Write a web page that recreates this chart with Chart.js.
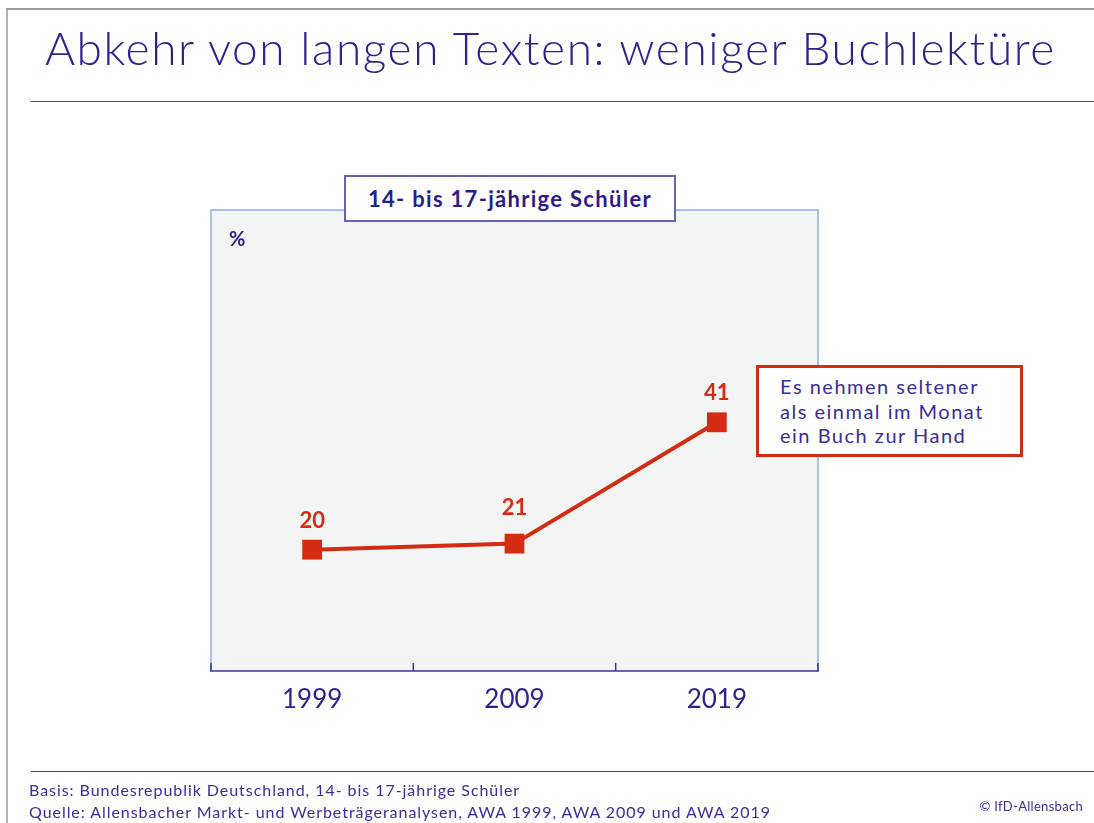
<!DOCTYPE html>
<html lang="de">
<head>
  <meta charset="UTF-8">
  <title>Abkehr von langen Texten: weniger Buchlektüre</title>
  <script src="https://cdn.jsdelivr.net/npm/chart.js"></script>
  <style>
    body { margin: 0; background: #fff; font-family: Lato, "DejaVu Sans", sans-serif; }
    #page { position: relative; width: 1094px; height: 823px; overflow: hidden; }
    #frame { position: absolute; left: 6px; top: 8px; right: -4px; bottom: -4px; border-top: 2px solid #9a9a9a; border-left: 2px solid #b0b0b0; }
    canvas { position: absolute; left: 0; top: 0; }
    .txt { position: absolute; color: #2e2290; white-space: nowrap; }
    #title { left: 45px; top: 22px; font-size: 46px; line-height: 52px; font-weight: 300; letter-spacing: 1.6px; }
    .rule { position: absolute; height: 0; border-top: 1.5px solid #4b40a8; }
    #head { position: absolute; left: 344px; top: 175px; width: 328px; height: 43px; background: #fff;
            border: 2px solid #6b61b3; font-weight: bold; font-size: 22px; line-height: 43px; text-align: center;
            color: #2b1d8a; letter-spacing: 1.3px; }
    #pct { left: 229px; top: 226px; font-weight: bold; font-size: 20px; color: #2b1d8a; }
    #note { position: absolute; left: 756px; top: 365px; width: 240px; height: 80px; padding: 6px 0 0 21px;
            background: #fff; border: 3px solid #d42b13; font-size: 20px; line-height: 24.5px; color: #3a2d9c;
            letter-spacing: 1.5px; }
    .foot { font-size: 16px; color: #3a2d9c; letter-spacing: 0.95px; }
  </style>
</head>
<body>
<div id="page">
  <div id="frame"></div>
  <canvas id="chart" width="1094" height="823"></canvas>
  <div class="txt" id="title">Abkehr von langen Texten: weniger Buchlektüre</div>
  <div class="rule" style="left:31px; right:0; top:101px;"></div>
  <div id="head">14- bis 17-jährige Schüler</div>
  <div class="txt" id="pct">%</div>
  <div id="note">Es nehmen seltener<br>als einmal im Monat<br>ein Buch zur Hand</div>
  <div class="rule" style="left:31px; right:0; top:771px;"></div>
  <div class="txt foot" style="left:29px; top:780px;">Basis: Bundesrepublik Deutschland, 14- bis 17-jährige Schüler</div>
  <div class="txt foot" style="left:29px; top:802px;">Quelle: Allensbacher Markt- und Werbeträgeranalysen, AWA 1999, AWA 2009 und AWA 2019</div>
  <div class="txt foot" style="right:11px; top:798px; font-size:13px; letter-spacing:0.3px;">© IfD-Allensbach</div>
</div>

<script>
  // Data
  const years = ['1999', '2009', '2019'];
  const values = [20, 21, 41];
  const yMin = 0;
  const yMax = 76;

  // how far above each point its value label sits
  const labelLift = [22, 29, 22];

  const red = '#d42b13';

  // plot background, border and axis with upward ticks
  const framePlugin = {
    id: 'frame',
    beforeDatasetsDraw(chart) {
      const { ctx, chartArea: a } = chart;
      ctx.save();
      ctx.fillStyle = '#f3f5f4';
      ctx.fillRect(a.left, a.top, a.right - a.left, a.bottom - a.top);
      ctx.strokeStyle = '#8fb0e6';
      ctx.lineWidth = 1.5;
      ctx.beginPath();
      ctx.moveTo(a.left, a.bottom);
      ctx.lineTo(a.left, a.top);
      ctx.lineTo(a.right, a.top);
      ctx.lineTo(a.right, a.bottom);
      ctx.stroke();
      ctx.strokeStyle = '#3b3399';
      ctx.lineWidth = 2.5;
      ctx.beginPath();
      ctx.moveTo(a.left - 1, a.bottom);
      ctx.lineTo(a.right + 1, a.bottom);
      const step = (a.right - a.left) / years.length;
      for (let i = 0; i <= years.length; i++) {
        const x = a.left + i * step;
        ctx.moveTo(x, a.bottom);
        ctx.lineTo(x, a.bottom - 8);
      }
      ctx.lineWidth = 1.5;
      ctx.stroke();
      ctx.restore();
    }
  };

  const valueLabels = {
    id: 'valueLabels',
    afterDatasetsDraw(chart) {
      const { ctx } = chart;
      const meta = chart.getDatasetMeta(0);
      ctx.save();
      ctx.fillStyle = red;
      ctx.font = 'bold 22px Lato, sans-serif';
      ctx.textAlign = 'center';
      ctx.textBaseline = 'alphabetic';
      meta.data.forEach((pt, i) => {
        ctx.fillText(String(values[i]), pt.x, pt.y - labelLift[i]);
      });
      ctx.restore();
    }
  };

  new Chart(document.getElementById('chart'), {
    type: 'line',
    data: {
      labels: years,
      datasets: [{
        data: values,
        borderColor: red,
        borderWidth: 4,
        backgroundColor: red,
        pointStyle: 'rect',
        pointRadius: 14,
        pointBorderWidth: 0,
        tension: 0,
        clip: false
      }]
    },
    options: {
      responsive: false,
      animation: false,
      layout: { padding: { left: 211, right: 276, top: 210, bottom: 92 } },
      plugins: { legend: { display: false }, tooltip: { enabled: false } },
      scales: {
        x: {
          offset: true,
          grid: { display: false, drawTicks: false },
          border: { display: false },
          ticks: { color: '#2e2290', font: { family: 'Lato', size: 26 }, padding: 13 },
          afterFit(s) { s.height = 60; }
        },
        y: { display: false, min: yMin, max: yMax }
      }
    },
    plugins: [framePlugin, valueLabels]
  });
</script>
</body>
</html>
